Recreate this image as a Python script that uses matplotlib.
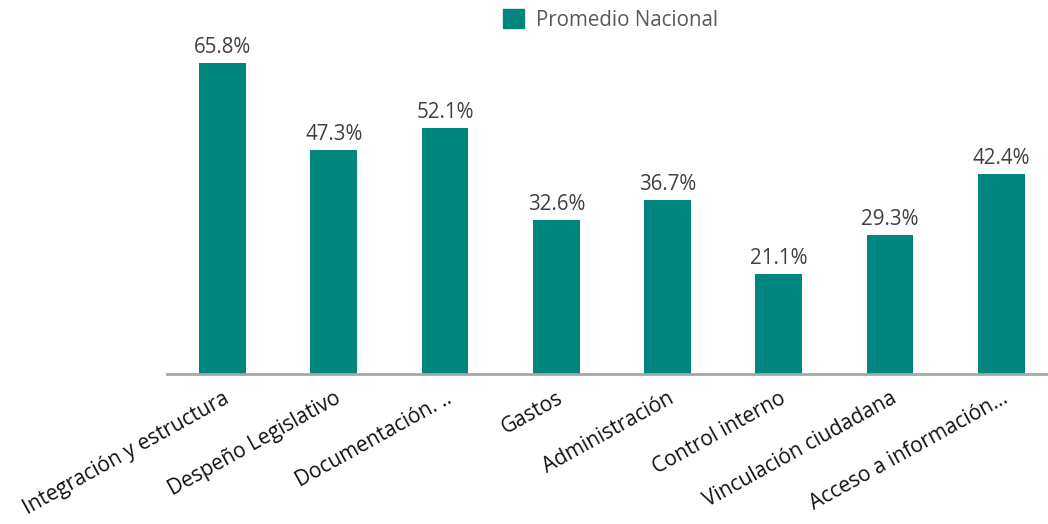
import matplotlib
matplotlib.use("Agg")
import matplotlib.pyplot as plt
from matplotlib.patches import Patch

categories = ["Integración y estructura", "Despeño Legislativo", "Documentación. ..",
              "Gastos", "Administración", "Control interno",
              "Vinculación ciudadana", "Acceso a información..."]
values = [65.8, 47.3, 52.1, 32.6, 36.7, 21.1, 29.3, 42.4]
series_name = "Promedio Nacional"

bar_color = "#00857F"
plt.rcParams['font.family'] = ['Open Sans', 'DejaVu Sans']

fig = plt.figure(figsize=(10.48, 5.24), dpi=100)
ax = fig.add_axes([167/1048, 1 - 374/524, (1048-167)/1048, 374/524])

x = list(range(len(categories)))
bars = ax.bar(x, values, width=0.42, color=bar_color, zorder=2)
for xi, v in zip(x, values):
    ax.annotate(f"{v:.1f}%", (xi, v), xytext=(0, 7.2), textcoords="offset points",
                ha="center", va="baseline", fontsize=14.8, color="#404040")

ax.set_xlim(-0.5, 7.42)
ax.set_ylim(0, 79.1)
ax.set_yticks([])
ax.set_xticks(x)
ax.set_xticklabels(categories, rotation=29, ha="right", rotation_mode="anchor",
                   fontsize=15, color="#111111")
ax.tick_params(axis="x", length=0, pad=10)
for s in ["top", "right", "left"]:
    ax.spines[s].set_visible(False)
ax.spines["bottom"].set_color("#A6A6A6")
ax.spines["bottom"].set_linewidth(2)
ax.patch.set_alpha(0)

fig.legend(handles=[Patch(color=bar_color, label=series_name)],
           loc="center left", bbox_to_anchor=(503/1048, 1 - 20/524),
           frameon=False, fontsize=14.8, handlelength=1.0, handleheight=1.0,
           handletextpad=0.62, borderpad=0, borderaxespad=0,
           labelcolor="#595959")

fig.savefig("out.png", dpi=100)
